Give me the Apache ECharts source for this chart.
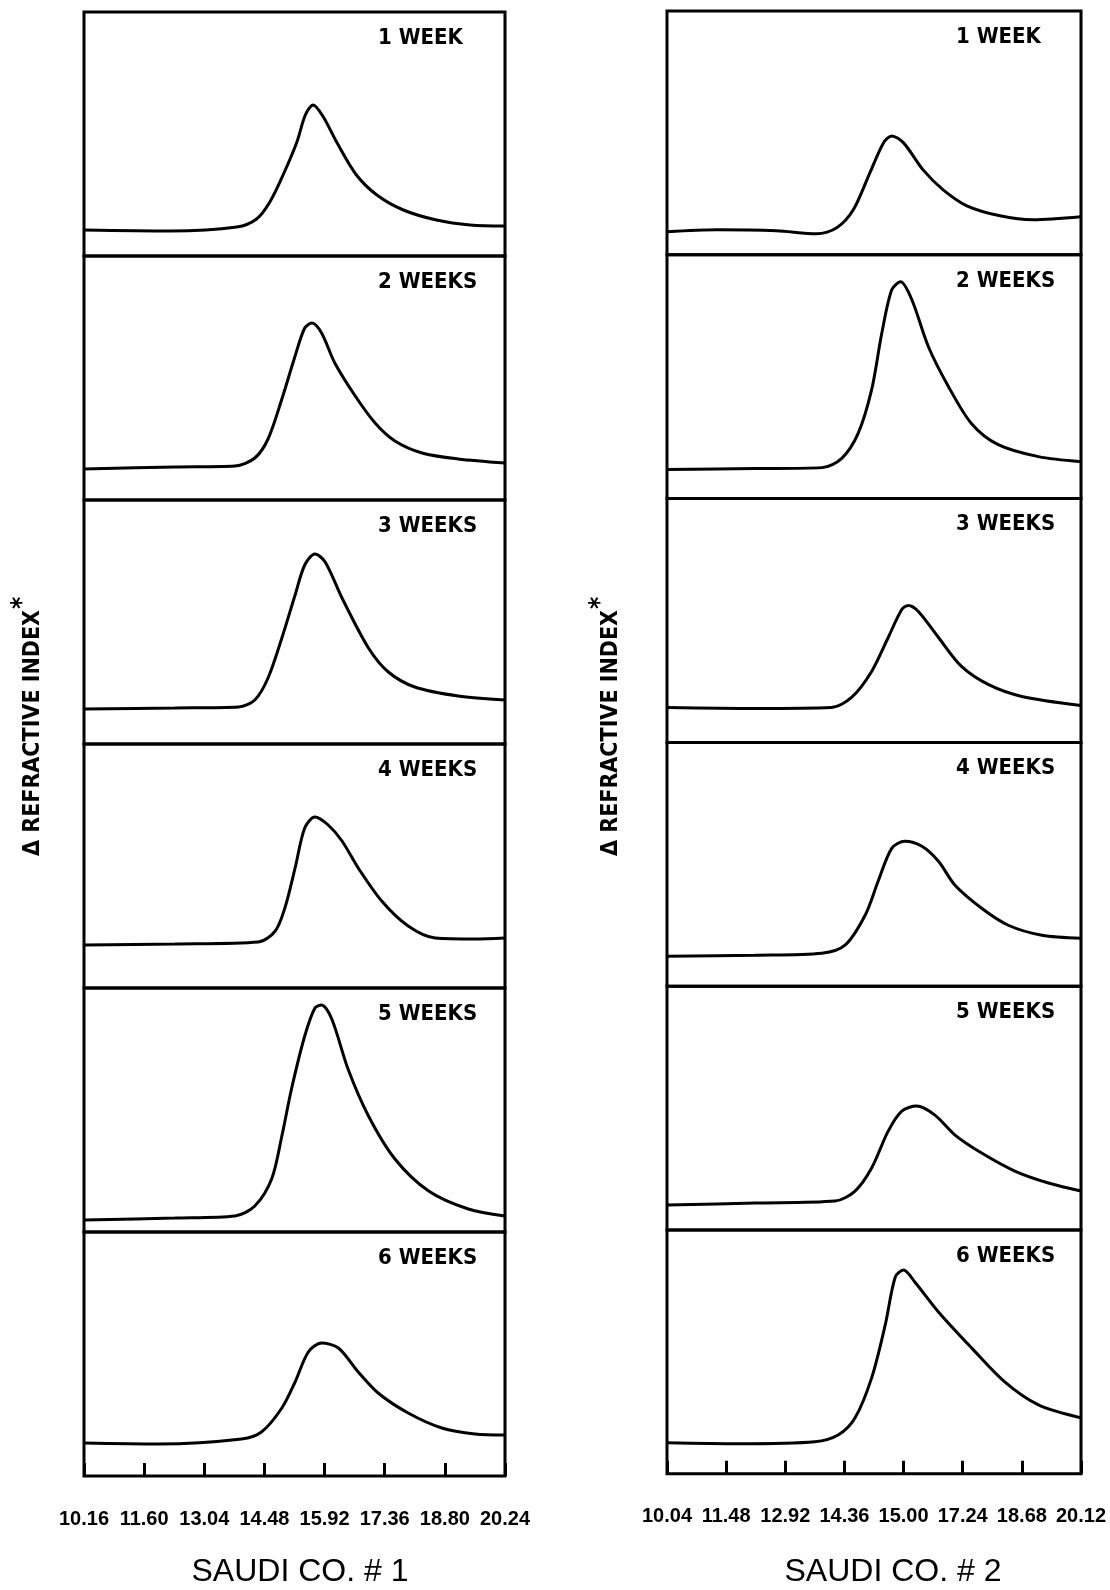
<!DOCTYPE html>
<html><head><meta charset="utf-8">
<script src="https://cdn.jsdelivr.net/npm/echarts@6/dist/echarts.min.js"></script>
<style>html,body{margin:0;padding:0;background:#fff}#c{width:1110px;height:1590px}</style>
</head><body><div id="c"></div>
<script>
// ---- data ----
const weekLabels = ['1 WEEK', '2 WEEKS', '3 WEEKS', '4 WEEKS', '5 WEEKS', '6 WEEKS'];
const tickLabelsCo1 = ['10.16', '11.60', '13.04', '14.48', '15.92', '17.36', '18.80', '20.24'];
const tickLabelsCo2 = ['10.04', '11.48', '12.92', '14.36', '15.00', '17.24', '18.68', '20.12'];
const titleCo1 = 'SAUDI CO. # 1';
const titleCo2 = 'SAUDI CO. # 2';
const yLabel = 'Δ REFRACTIVE INDEX';

// x in tick-interval units (0 = first tick label, 7 = last), y = detector response (arbitrary)
const co1Week1 = [[0,26],[1.43,25],[2.54,29],[2.87,37],[3.09,54],[3.31,81],[3.54,114],[3.68,141],[3.81,151],[3.98,139],[4.20,114],[4.53,81],[4.87,61],[5.31,46],[5.86,36],[6.42,31],[7,30]];
const co1Week2 = [[0,31],[1.51,33],[2.51,34],[2.84,42],[3.06,61],[3.29,101],[3.51,144],[3.67,172],[3.79,177],[3.95,167],[4.17,137],[4.51,104],[4.84,77],[5.17,59],[5.62,47],[6.22,41],[7,37]];
const co1Week3 = [[0,35],[1.51,36],[2.57,37],[2.84,44],[3.06,66],[3.29,106],[3.51,149],[3.67,179],[3.84,190],[4.01,182],[4.29,146],[4.73,96],[5.06,72],[5.50,57],[6.22,48],[7,44]];
const co1Week4 = [[0,43],[1.51,44],[2.90,46],[3.18,57],[3.34,80],[3.51,120],[3.67,160],[3.84,171],[4.06,163],[4.29,147],[4.56,120],[4.95,87],[5.39,62],[5.84,50],[6.50,49],[7,50]];
const co1Week5 = [[0,12],[1.51,14],[2.51,16],[2.84,26],[3.12,53],[3.29,96],[3.45,143],[3.67,196],[3.84,224],[3.95,227],[4.12,213],[4.39,163],[4.73,116],[5.17,73],[5.73,41],[6.39,23],[7,16]];
const co1Week6 = [[0,33],[1.24,32],[2.62,37],[2.95,44],[3.29,68],[3.51,94],[3.73,124],[3.95,133],[4.23,128],[4.56,104],[4.89,83],[5.39,63],[5.95,48],[6.50,42],[7,41]];

const co2Week1 = [[0,23],[0.84,25],[1.85,24],[2.53,21],[2.87,27],[3.15,45],[3.43,82],[3.66,112],[3.80,119],[4.00,112],[4.33,85],[4.67,65],[5.07,49],[5.63,39],[6.19,35],[7,38]];
const co2Week2 = [[0,29],[1.49,30],[2.62,31],[2.95,40],[3.23,65],[3.46,109],[3.63,165],[3.80,209],[3.95,217],[4.14,199],[4.42,152],[4.76,112],[5.15,75],[5.60,54],[6.28,42],[7,37]];
const co2Week3 = [[0,35],[1.49,34],[2.78,35],[3.12,45],[3.46,71],[3.74,105],[3.97,133],[4.08,137],[4.25,131],[4.59,105],[4.98,76],[5.43,58],[6.00,46],[7,37]];
const co2Week4 = [[0,30],[1.49,31],[2.62,33],[3.01,41],[3.35,71],[3.57,105],[3.80,138],[4.02,145],[4.31,140],[4.59,125],[4.87,101],[5.32,78],[5.77,61],[6.34,51],[7,48]];
const co2Week5 = [[0,25],[1.49,27],[2.84,29],[3.18,39],[3.46,62],[3.74,99],[3.97,119],[4.22,124],[4.53,115],[4.87,95],[5.32,77],[5.88,59],[6.45,47],[7,39]];
const co2Week6 = [[0,31],[1.21,30],[2.50,32],[2.90,39],[3.18,56],[3.46,96],[3.69,149],[3.86,197],[4.00,204],[4.19,192],[4.59,162],[5.15,126],[5.71,92],[6.28,69],[7,56]];

const co1Curves = [co1Week1, co1Week2, co1Week3, co1Week4, co1Week5, co1Week6];
const co2Curves = [co2Week1, co2Week2, co2Week3, co2Week4, co2Week5, co2Week6];

// ---- layout ----
const cols = [
  { left: 84, width: 421, top: 12, ph: 244, curves: co1Curves, ticks: tickLabelsCo1, labelX: 378, title: titleCo1, titleX: 300, yLabX: 33 },
  { left: 667, width: 414, top: 11, ph: 243.8, curves: co2Curves, ticks: tickLabelsCo2, labelX: 956, title: titleCo2, titleX: 893, yLabX: 611 }
];
const YMAX = 244;
const boldFont = '"DejaVu Sans Condensed", "DejaVu Sans", sans-serif';

const grid = [], xAxis = [], yAxis = [], series = [], graphic = [];
cols.forEach((c, ci) => {
  c.curves.forEach((data, k) => {
    const g = grid.length;
    const last = k === c.curves.length - 1;
    grid.push({ left: c.left, width: c.width, top: c.top + k * c.ph, height: c.ph,
      outerBoundsMode: 'none', containLabel: false,
      show: true, borderColor: '#000', borderWidth: 3, backgroundColor: 'transparent' });
    xAxis.push({ gridIndex: g, type: 'value', min: 0, max: 7, interval: 1,
      axisLine: { show: false }, splitLine: { show: false },
      axisTick: { show: last, inside: true, length: 13, lineStyle: { color: '#000', width: 3 } },
      axisLabel: { show: last, margin: 33, color: '#000', fontFamily: '"Liberation Sans", Arial, sans-serif', fontWeight: 'bold', fontSize: 20,
        showMinLabel: true, showMaxLabel: true, hideOverlap: false, formatter: v => c.ticks[Math.round(v)] } });
    yAxis.push({ gridIndex: g, type: 'value', min: 0, max: YMAX, show: false });
    series.push({ type: 'line', xAxisIndex: g, yAxisIndex: g, data: data, smooth: 0.3,
      symbol: 'none', silent: true, lineStyle: { color: '#000', width: 3 } });
    graphic.push({ type: 'text', x: c.labelX, y: c.top + k * c.ph + 26,
      style: { text: weekLabels[k], fill: '#000', font: 'bold 22px ' + boldFont, align: 'left', verticalAlign: 'middle' } });
  });
  graphic.push({ type: 'text', x: c.titleX, y: 1572,
    style: { text: c.title, fill: '#000', font: '32px "Liberation Sans", sans-serif', align: 'center', verticalAlign: 'middle' } });
  graphic.push({ type: 'text', x: c.yLabX, y: 733, rotation: Math.PI / 2,
    style: { text: yLabel, fill: '#000', font: 'bold 23px ' + boldFont, align: 'center', verticalAlign: 'middle' } });
  graphic.push({ type: 'text', x: c.yLabX - 10, y: 603, rotation: Math.PI / 2,
    style: { text: '*', fill: '#000', font: 'bold 26px ' + boldFont, align: 'center', verticalAlign: 'middle' } });
});

const chart = echarts.init(document.getElementById('c'), null, { renderer: 'canvas' });
chart.setOption({ animation: false, backgroundColor: '#fff', grid, xAxis, yAxis, series, graphic });
</script>
</body></html>
